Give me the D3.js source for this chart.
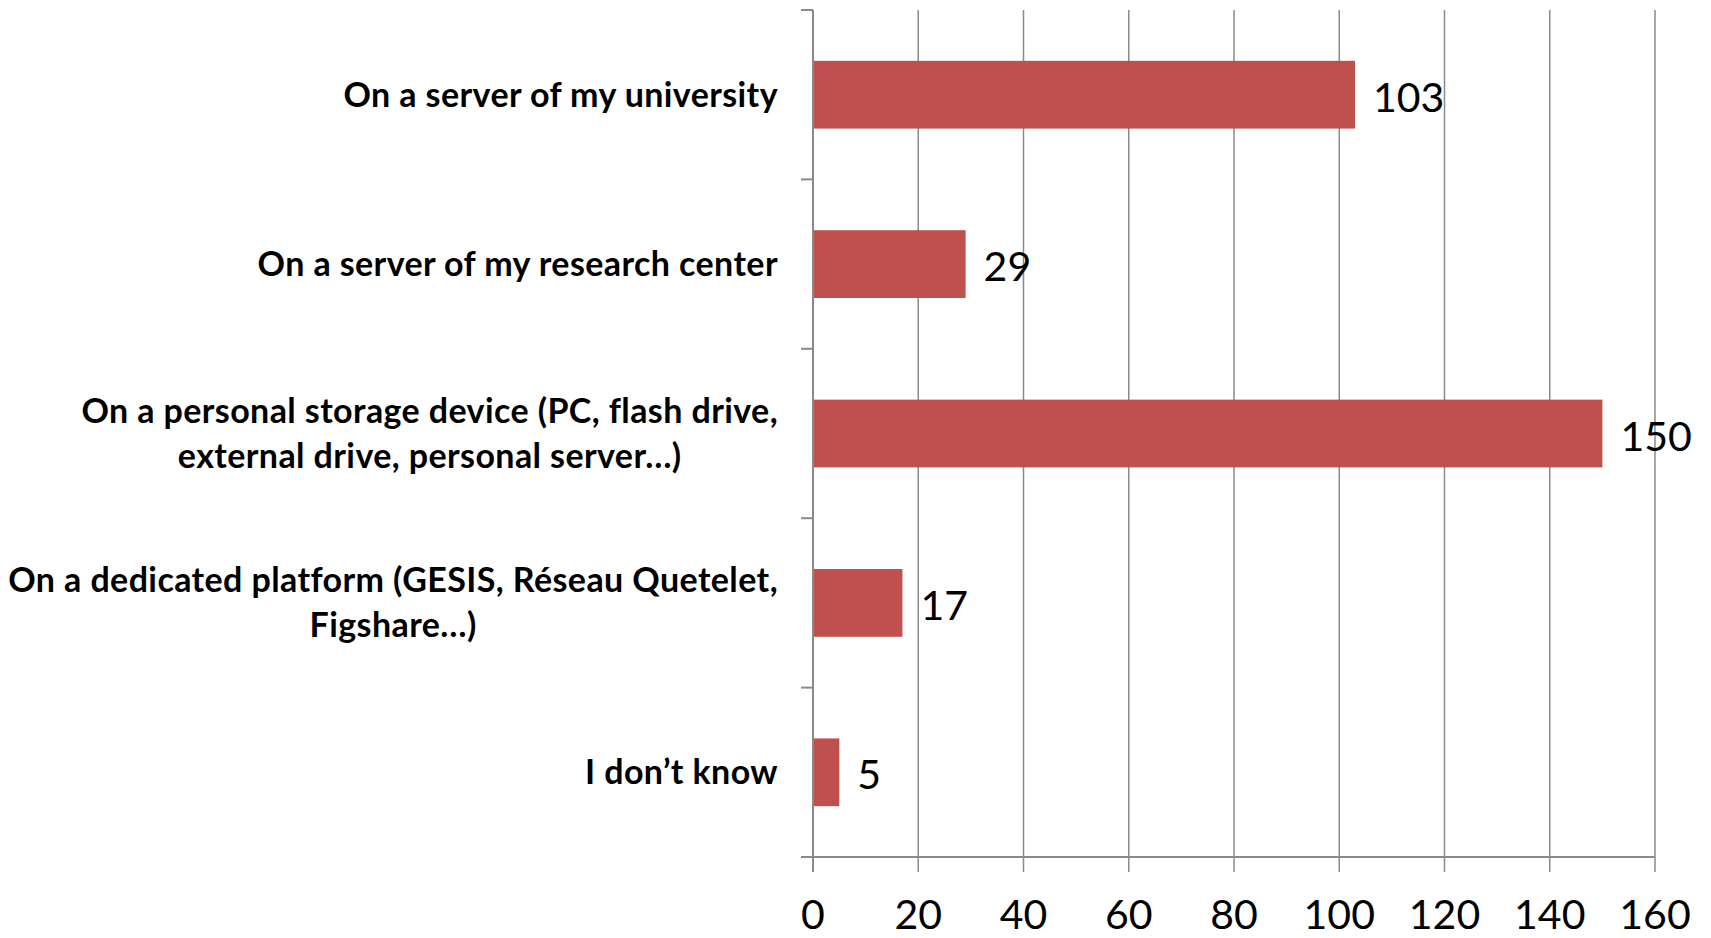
<!DOCTYPE html>
<html>
<head>
<meta charset="utf-8">
<script src="https://cdn.jsdelivr.net/npm/d3@7"></script>
<style>
  html, body { margin: 0; padding: 0; background: #fff; }
  svg { display: block; }
</style>
</head>
<body>
<svg id="chart"></svg>
<script>
const categories = [
    ["On a server of my university"],
    ["On a server of my research center"],
    ["On a personal storage device (PC, flash drive,", "external drive, personal server\u2026)"],
    ["On a dedicated platform (GESIS, R\u00e9seau Quetelet,", "Figshare\u2026)"],
    ["I don\u2019t know"]
];
const values = [103, 29, 150, 17, 5];
const xticks = [0, 20, 40, 60, 80, 100, 120, 140, 160];

const width = 1711, height = 938;
const margin = { top: 10, bottom: 81, left: 813, right: 56 };
const font = "Lato, 'Open Sans', sans-serif";
const axis_color = "#8a8a8a";
const bar_color = "#C0504D";

const svg = d3.select("#chart")
      .attr("width", width)
      .attr("height", height)
      .attr("viewBox", [0, 0, width, height]);

const xscale = d3.scaleLinear()
      .domain([0, 160])
      .range([margin.left, width - margin.right]);

const yscale = d3.scaleBand()
      .domain(d3.range(categories.length))
      .range([margin.top, height - margin.bottom])
      .paddingInner(0.6)
      .paddingOuter(0.3);

const y0 = height - margin.bottom;

// vertical gridlines, running past the axis as ticks
svg.append("g")
    .attr("stroke", axis_color)
    .attr("stroke-width", 1.5)
    .selectAll("line")
    .data(xticks)
    .join("line")
    .attr("x1", d => xscale(d))
    .attr("x2", d => xscale(d))
    .attr("y1", margin.top)
    .attr("y2", y0 + 15);

// bars
svg.append("g")
    .attr("fill", bar_color)
    .selectAll("rect")
    .data(values)
    .join("rect")
    .attr("x", xscale(0))
    .attr("y", (d, i) => yscale(i))
    .attr("width", d => xscale(d) - xscale(0))
    .attr("height", yscale.bandwidth());

// y axis with category separator ticks
const step = yscale.step();
const first = yscale(0) - step * yscale.paddingInner() / 2;
const bounds = d3.range(categories.length + 1).map(i => first + i * step);

const yaxis = svg.append("g")
      .attr("stroke", axis_color)
      .attr("stroke-width", 2);
yaxis.append("line")
    .attr("x1", xscale(0)).attr("x2", xscale(0))
    .attr("y1", margin.top).attr("y2", y0 + 15);
yaxis.selectAll("line.tick")
    .data(bounds)
    .join("line")
    .attr("class", "tick")
    .attr("x1", xscale(0) - 12)
    .attr("x2", xscale(0))
    .attr("y1", d => d)
    .attr("y2", d => d);

// x axis line
svg.append("line")
    .attr("stroke", axis_color)
    .attr("stroke-width", 2)
    .attr("x1", xscale(0) - 12)
    .attr("x2", xscale(160))
    .attr("y1", y0)
    .attr("y2", y0);

// x tick labels
svg.append("g")
    .attr("font-family", font)
    .attr("font-size", 41)
    .attr("text-anchor", "middle")
    .attr("fill", "#000")
    .selectAll("text")
    .data(xticks)
    .join("text")
    .attr("x", d => xscale(d))
    .attr("y", 929)
    .text(d => d);

// value labels
svg.append("g")
    .attr("font-family", font)
    .attr("font-size", 41)
    .attr("fill", "#000")
    .selectAll("text")
    .data(values)
    .join("text")
    .attr("x", d => xscale(d) + 18)
    .attr("y", (d, i) => yscale(i) + yscale.bandwidth() / 2 + 17)
    .text(d => d);

// category labels: lines centred on each other, block right aligned
const label_right = 778;
const line_h = 45;
const lg = svg.append("g")
      .attr("font-family", font)
      .attr("font-size", 34)
      .attr("font-weight", "bold")
      .attr("letter-spacing", 0.4)
      .attr("fill", "#000");

categories.forEach((lines, i) => {
    const cy = yscale(i) + yscale.bandwidth() / 2;
    const t = lg.append("text").attr("text-anchor", "middle");
    lines.forEach((s, j) => {
        t.append("tspan")
            .attr("y", cy + 12 + (j - (lines.length - 1) / 2) * line_h)
            .text(s);
    });
    const w = d3.max(t.selectAll("tspan").nodes(), n => n.getComputedTextLength());
    t.selectAll("tspan").attr("x", label_right - w / 2);
});
</script>
</body>
</html>
